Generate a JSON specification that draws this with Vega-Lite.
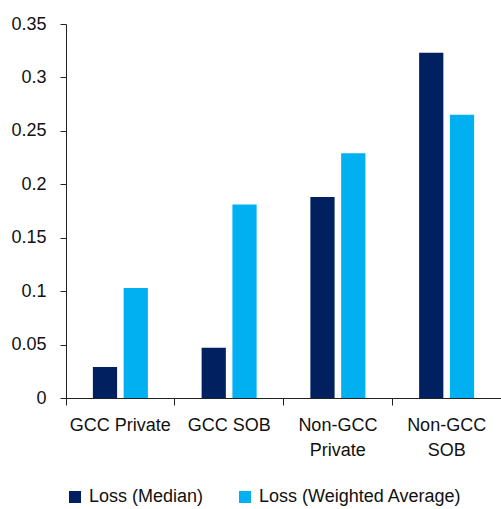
{
  "$schema": "https://vega.github.io/schema/vega-lite/v6.json",
  "autosize": {"type": "none"},
  "padding": {"left": 66, "top": 24, "right": 0, "bottom": 111},
  "width": 435,
  "height": 374,
  "background": "white",
  "data": {
    "values": [
      {"category": "GCC Private", "series": "Loss (Median)", "loss": 0.029},
      {"category": "GCC Private", "series": "Loss (Weighted Average)", "loss": 0.103},
      {"category": "GCC SOB", "series": "Loss (Median)", "loss": 0.047},
      {"category": "GCC SOB", "series": "Loss (Weighted Average)", "loss": 0.181},
      {"category": "Non-GCC Private", "series": "Loss (Median)", "loss": 0.188},
      {"category": "Non-GCC Private", "series": "Loss (Weighted Average)", "loss": 0.229},
      {"category": "Non-GCC SOB", "series": "Loss (Median)", "loss": 0.323},
      {"category": "Non-GCC SOB", "series": "Loss (Weighted Average)", "loss": 0.265}
    ]
  },
  "mark": {"type": "bar"},
  "encoding": {
    "x": {
      "field": "category",
      "type": "nominal",
      "sort": ["GCC Private", "GCC SOB", "Non-GCC Private", "Non-GCC SOB"],
      "scale": {"paddingInner": 0, "paddingOuter": 0},
      "axis": {
        "title": null,
        "labelAngle": 0,
        "bandPosition": 0,
        "tickSize": 7,
        "labelPadding": 11,
        "labelLineHeight": 25,
        "labelExpr": "indexof(datum.value, 'Non-GCC') === 0 ? split(datum.value, ' ') : datum.value"
      }
    },
    "xOffset": {
      "field": "series",
      "type": "nominal",
      "sort": ["Loss (Median)", "Loss (Weighted Average)"],
      "scale": {"paddingInner": 0.213, "paddingOuter": 0.873}
    },
    "y": {
      "field": "loss",
      "type": "quantitative",
      "scale": {"domain": [0, 0.35], "nice": false},
      "axis": {
        "title": null,
        "values": [0, 0.05, 0.1, 0.15, 0.2, 0.25, 0.3, 0.35],
        "format": ".2~f",
        "tickSize": 6,
        "labelPadding": 14
      }
    },
    "color": {
      "field": "series",
      "type": "nominal",
      "scale": {
        "domain": ["Loss (Median)", "Loss (Weighted Average)"],
        "range": ["#002060", "#00B0F0"]
      },
      "legend": {
        "title": null,
        "orient": "bottom",
        "direction": "horizontal",
        "offset": 29,
        "symbolType": "square",
        "symbolSize": 144,
        "symbolStrokeWidth": 0,
        "labelOffset": 5,
        "columnPadding": 32
      }
    }
  },
  "config": {
    "font": "Liberation Sans",
    "view": {"stroke": null},
    "axis": {
      "grid": false,
      "domainColor": "#222222",
      "tickColor": "#222222",
      "labelFontSize": 18,
      "labelColor": "#111111"
    },
    "legend": {
      "labelFontSize": 18,
      "labelColor": "#111111",
      "labelLimit": 400
    }
  }
}
